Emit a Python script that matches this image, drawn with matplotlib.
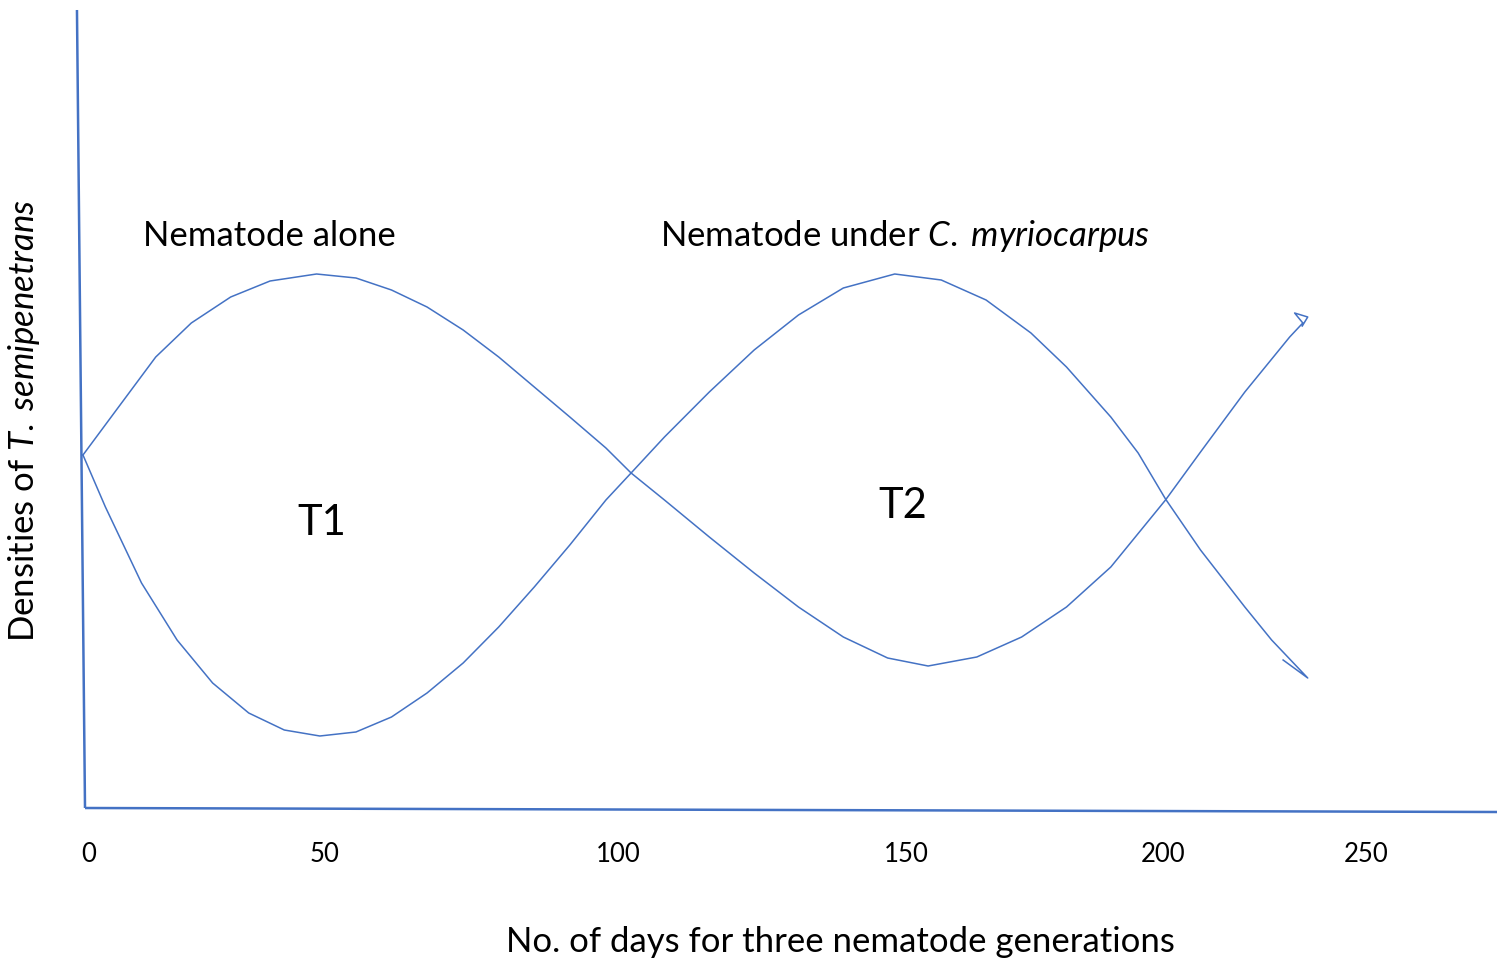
import matplotlib
matplotlib.use("Agg")
import matplotlib.pyplot as plt
from matplotlib.patches import Rectangle

plt.rcParams['font.family'] = ['Lato', 'DejaVu Sans']
plt.rcParams['mathtext.fontset'] = 'custom'
plt.rcParams['mathtext.rm'] = 'Lato'
plt.rcParams['mathtext.it'] = 'Lato:italic'

# curves: days vs relative density
alone_days = [0, 6.1, 13.3, 19.8, 27.0, 34.2, 42.7, 49.9, 56.4, 62.9, 69.5, 76.0, 82.5, 89.0,
              95.6, 100.2, 106.3, 114.5, 122.7, 130.8, 139.0, 147.1, 154.5, 163.4, 171.6,
              179.8, 187.9, 197.9, 204.3, 212.4, 220.6, 223.0, 221.5, 223.9, 222.9]
alone_dens = [35.3, 39.8, 45.1, 48.5, 51.1, 52.7, 53.4, 53.0, 51.8, 50.1, 47.8, 45.1, 42.1, 39.1,
              36.0, 33.5, 30.8, 27.1, 23.5, 20.1, 17.1, 15.0, 14.2, 15.1, 17.1,
              20.1, 24.1, 30.8, 35.6, 41.6, 47.1, 48.5, 49.5, 49.1, 48.2]

myrio_days = [0, 4.1, 10.7, 17.2, 23.7, 30.3, 36.8, 43.3, 49.9, 56.4, 62.9, 69.5, 76.0, 82.5,
              89.0, 95.6, 100.2, 106.3, 114.5, 122.7, 130.8, 139.0, 148.4, 156.9, 165.1, 173.3,
              179.8, 187.9, 192.9, 197.9, 204.3, 212.4, 217.3, 223.9, 219.4]
myrio_dens = [35.3, 30.1, 22.5, 16.8, 12.5, 9.5, 7.8, 7.2, 7.6, 9.1, 11.5, 14.5, 18.1, 22.1,
              26.3, 30.8, 33.5, 37.1, 41.6, 45.8, 49.3, 52.0, 53.4, 52.8, 50.8, 47.5,
              44.1, 39.1, 35.5, 30.9, 25.8, 20.1, 16.8, 13.0, 14.8]

# hand drawn axes
yaxis_days = [-1.1, 0.37]
yaxis_dens = [79.8, 0]
xaxis_days = [0.37, 258.5]
xaxis_dens = [0, -0.4]

tick_labels = ['0', '50', '100', '150', '200', '250']
tick_pos = [1.1, 44.2, 97.8, 150.5, 197.4, 234.6]

blue = '#4472C4'

fig = plt.figure(figsize=(14.97, 9.61), dpi=100)
ax = fig.add_axes([0, 0, 1, 1])
ax.set_xlim(-15.17, 258.5)
ax.set_ylim(-15.3, 80.8)
ax.axis('off')

ax.plot(yaxis_days, yaxis_dens, color=blue, lw=1.8, solid_capstyle='butt')
ax.plot(xaxis_days, xaxis_dens, color=blue, lw=1.8, solid_capstyle='butt')
ax.plot(alone_days, alone_dens, color=blue, lw=1.1, solid_joinstyle='round')
ax.plot(myrio_days, myrio_dens, color=blue, lw=1.1, solid_joinstyle='round')

for lab, p in zip(tick_labels, tick_pos):
    ax.text(p, -4.7, lab, ha='center', va='center', fontsize=18.5)

# the labels are cut off at the bottom in the original
clip = Rectangle((-20, 0), 300, 56.0, transform=ax.transData, visible=False)
ax.add_patch(clip)
t = ax.text(11.0, 56.2, 'Nematode alone', ha='left', va='baseline', fontsize=25)
t.set_clip_path(clip)
t = ax.text(105.5, 56.2, r'Nematode under $\mathit{C.}\;\mathit{myriocarpus}$', ha='left',
            va='baseline', fontsize=25)
t.set_clip_path(clip)

ax.text(43.7, 28.5, 'T1', ha='center', va='center', fontsize=30)
ax.text(149.9, 30.2, 'T2', ha='center', va='center', fontsize=30)

ax.text(138.4, -14.4, 'No. of days for three nematode generations', ha='center', va='baseline',
        fontsize=25)
ax.text(-10.7, 38.8, r'Densities of $\mathit{T.}\;\mathit{semipenetrans}$', ha='center',
        va='center', rotation=90, fontsize=25)

fig.savefig('out.png', dpi=100)
